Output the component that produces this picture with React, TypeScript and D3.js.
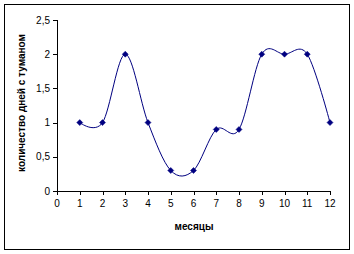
import React from "react";
import * as d3 from "d3";

const months = [1, 2, 3, 4, 5, 6, 7, 8, 9, 10, 11, 12];
const fogDays = [1, 1, 2, 1, 0.3, 0.3, 0.9, 0.9, 2, 2, 2, 1];
const xTicks = [0, 1, 2, 3, 4, 5, 6, 7, 8, 9, 10, 11, 12];
const yTicks = [0, 0.5, 1, 1.5, 2, 2.5];
const xTitle = "месяцы";
const yTitle = "количество дней с туманом";

const W = 354;
const H = 254;
const NAVY = "#000080";
const FONT = "'Liberation Sans', Arial, sans-serif";

export default function App() {
  const x = d3.scaleLinear().domain([0, 12]).range([57, 330]);
  const y = d3.scaleLinear().domain([0, 2.5]).range([191, 20]);
  const line = d3
    .line<number>()
    .x((_, i) => x(months[i]))
    .y((d) => y(d))
    .curve(d3.curveCatmullRom.alpha(0));
  const fmt = (v: number) => String(v).replace(".", ",");
  const diamond = "M0,-3L3,0L0,3L-3,0Z";

  return (
    <svg
      width={W}
      height={H}
      style={{ position: "absolute", left: 0, top: 0, background: "#fff" }}
      fontFamily={FONT}
    >
      <rect x={4.5} y={4.5} width={345} height={245} fill="#fff" stroke="#000" strokeWidth={1} />
      <line x1={x(0) + 0.5} x2={x(0) + 0.5} y1={y(2.5)} y2={y(0) + 0.5} stroke="#000" />
      <line x1={x(0)} x2={x(12) + 0.5} y1={y(0) + 0.5} y2={y(0) + 0.5} stroke="#000" />
      {yTicks.map((t) => (
        <g key={"y" + t}>
          <line x1={x(0) - 4} x2={x(0)} y1={Math.round(y(t)) + 0.5} y2={Math.round(y(t)) + 0.5} stroke="#000" />
          <text x={50} y={y(t)} dy="0.35em" textAnchor="end" fontSize={10} fill="#000">
            {fmt(t)}
          </text>
        </g>
      ))}
      {xTicks.map((t) => (
        <g key={"x" + t}>
          <line x1={Math.round(x(t)) + 0.5} x2={Math.round(x(t)) + 0.5} y1={y(0)} y2={y(0) + 4} stroke="#000" />
          <text x={x(t)} y={y(0) + 16} textAnchor="middle" fontSize={10} fill="#000">
            {t}
          </text>
        </g>
      ))}
      <path d={line(fogDays) as string} fill="none" stroke={NAVY} strokeWidth={1} />
      {fogDays.map((v, i) => (
        <path key={"m" + i} d={diamond} transform={`translate(${x(months[i])},${y(v)})`} fill={NAVY} stroke={NAVY} strokeWidth={0.5} />
      ))}
      <text x={194} y={230} textAnchor="middle" fontSize={10} fontWeight="bold" fill="#000">
        {xTitle}
      </text>
      <text
        transform={`translate(25,103) rotate(-90)`}
        textAnchor="middle"
        fontSize={10}
        fontWeight="bold"
        fill="#000"
      >
        {yTitle}
      </text>
    </svg>
  );
}
